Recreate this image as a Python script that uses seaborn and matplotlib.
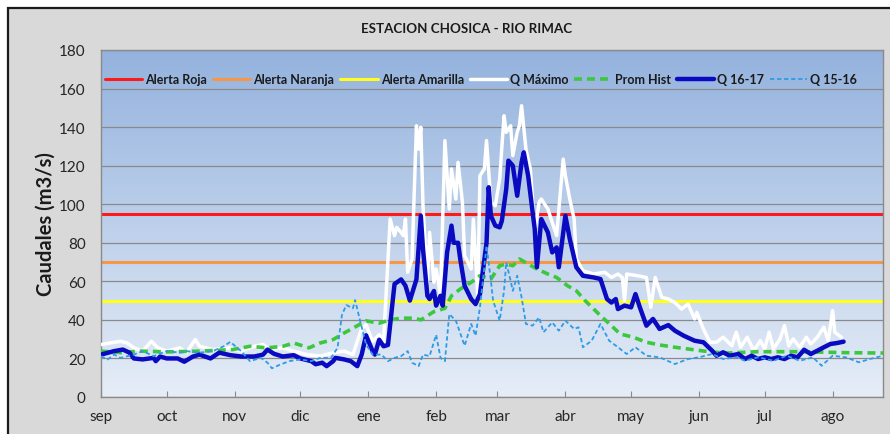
import numpy as np
import matplotlib.pyplot as plt
import matplotlib.patches as patches
import seaborn as sns

# meses (eje x en dias desde el 1 de setiembre)
meses = ["sep", "oct", "nov", "dic", "ene", "feb", "mar", "abr", "may", "jun", "jul", "ago"]
inicio_mes = [0, 30, 61, 91, 122, 153, 181, 212, 242, 273, 303, 334]

# umbrales de alerta (m3/s)
alerta_roja = 95
alerta_naranja = 70
alerta_amarilla = 50

# Q Maximo
dia_max = [0, 4, 9, 12, 15, 19, 23, 26, 30, 36, 39, 43, 45, 51, 59, 64, 70, 74, 77, 83, 88, 94, 100, 106,
           111, 115, 119, 121, 124, 127, 129, 132, 134, 135, 137, 138, 139, 140, 142, 144, 145, 146, 147,
           149, 150, 152, 153, 155, 157, 159, 160, 162, 163, 165, 166, 169, 170, 172, 173, 175, 176, 178,
           180, 182, 184, 185, 187, 188, 190, 191, 192, 194, 196, 198, 200, 201, 204, 206, 208, 211, 212,
           214, 216, 217, 220, 225, 230, 233, 236, 238, 239, 240, 245, 249, 251, 253, 256, 259, 262, 265,
           268, 271, 272, 275, 278, 281, 284, 288, 290, 292, 295, 298, 301, 303, 305, 307, 310, 312, 314,
           316, 319, 322, 324, 327, 330, 332, 334, 335, 338]
q_max = [27.2, 28, 28.9, 28, 25.5, 23.8, 28.9, 25.5, 23.8, 25.5, 23, 29.8, 26.3, 24.6, 25.5, 23.8, 26.3,
         27.2, 24.6, 25.5, 23.8, 22, 21.2, 23, 23.8, 22, 35.7, 37.4, 28.9, 32.3, 28.9, 92.3, 83.7, 88, 85.4,
         83.7, 92.3, 64.7, 71.6, 140.7, 128.6, 139.9, 99.2, 59.5, 85.4, 59.5, 66.4, 52.5, 133, 97.5, 118.3,
         102.7, 121.7, 101, 73.3, 66.4, 92.3, 52.5, 114.8, 118.3, 133, 101, 99.2, 113.1, 145.9, 137.3,
         140.7, 125.2, 137.3, 140.7, 151.1, 128.6, 118.3, 85.4, 101, 102.7, 97.5, 90.6, 83.7, 123.4, 114.8,
         102.7, 92.3, 71.6, 65.5, 63.8, 64.7, 62, 63.8, 62, 50, 63.8, 62.9, 62, 46.5, 62, 51.7, 50.8, 49,
         45.6, 48.2, 40.5, 43.9, 35.3, 28.4, 28.4, 31, 26.6, 33.6, 25.8, 31, 24, 29.2, 24.9, 33.6, 24.9,
         30.1, 37, 26.6, 30.1, 25.8, 31, 27.5, 31, 36.2, 29.2, 44.8, 33.6, 31]

# Promedio historico
dia_prom = [0, 9, 18, 30, 45, 60, 68, 76, 83, 88, 95, 100, 106, 111, 115, 121, 127, 132, 137, 143, 146,
            152, 157, 160, 164, 169, 173, 178, 182, 185, 188, 191, 195, 199, 204, 208, 213, 217, 221, 228,
            233, 237, 243, 249, 255, 262, 268, 274, 280, 286, 300, 320, 340, 357]
prom_hist = [23.8, 23, 23.8, 23.4, 23.8, 24.6, 26.3, 25.5, 26.3, 28, 25.5, 28, 29.8, 33.2, 35.7, 39.5,
             38.3, 40, 40.9, 40.9, 40, 44.3, 46, 52.5, 56, 59.5, 62.9, 61.2, 68.1, 69, 68.1, 71.6, 69, 66.4,
             63.8, 62, 57.7, 55.1, 50, 42.2, 37, 32.7, 31, 28.4, 27, 25.8, 24.9, 24, 23.2, 22.8, 23.5, 23.5,
             23, 22.8]

# Q 16-17
dia_1617 = [0, 6, 10, 13, 15, 19, 24, 25, 27, 30, 35, 38, 42, 45, 50, 54, 59, 64, 70, 74, 76, 79, 83, 88,
            91, 96, 98, 101, 103, 106, 107, 111, 114, 117, 119, 121, 124, 125, 127, 129, 131, 132, 134, 137,
            139, 141, 144, 146, 147, 149, 150, 152, 153, 155, 156, 158, 160, 161, 163, 164, 166, 169, 171,
            173, 176, 177, 178, 180, 182, 183, 185, 186, 188, 190, 192, 193, 195, 198, 199, 201, 204, 206,
            208, 209, 212, 214, 217, 220, 225, 228, 231, 233, 235, 236, 239, 242, 244, 246, 249, 252, 255,
            259, 262, 266, 271, 275, 279, 281, 284, 287, 291, 294, 297, 300, 303, 306, 309, 312, 315, 318,
            321, 324, 327, 330, 333, 336, 339]
q_1617 = [22, 23.8, 24.6, 23, 20, 19.5, 20.3, 18.6, 21, 20, 20, 18.3, 21, 22, 20, 23, 21.7, 21, 21, 22,
          24.6, 22.4, 21, 21.7, 20, 18.6, 17, 17.8, 16, 18.6, 20.3, 19.5, 18.6, 16, 22, 32, 23.8, 22, 29.7,
          26.3, 27, 37.4, 58.6, 61, 57.7, 50, 61, 94, 76.8, 52.5, 50.8, 55, 47.4, 52.5, 47.4, 75, 88.9, 80,
          80, 71.6, 57.7, 50.8, 48.2, 53.4, 80, 108.8, 94, 88.9, 88, 91.4, 107.9, 122.6, 120, 104.4, 121.7,
          126.9, 114.8, 87.1, 67.3, 92.3, 85.4, 75, 77.6, 67.3, 94, 82, 67.3, 62.9, 62, 61.2, 50.8, 49,
          50.8, 45.6, 47.4, 46.5, 53.4, 46.5, 37, 40.5, 35.3, 37.3, 34.4, 31.8, 29.2, 28.4, 24, 21.4, 23.2,
          21.4, 22.3, 19.7, 21.4, 19.7, 20.6, 19.7, 20.6, 19.7, 21.4, 20.6, 24.5, 22.3, 24, 25.8, 27.5, 28,
          28.7]

# Q 15-16
dia_1516 = [0, 3, 6, 9, 15, 19, 24, 30, 36, 39, 45, 51, 56, 59, 64, 68, 73, 76, 78, 82, 86, 91, 96, 100,
            105, 108, 110, 112, 115, 116, 118, 121, 124, 128, 131, 134, 137, 140, 142, 145, 147, 150, 153,
            155, 157, 159, 162, 166, 169, 171, 173, 175, 176, 178, 179, 182, 184, 185, 187, 188, 190, 192,
            194, 197, 200, 202, 206, 209, 212, 216, 218, 220, 224, 228, 232, 236, 240, 244, 249, 255, 262,
            268, 273, 279, 284, 290, 294, 300, 307, 313, 319, 325, 329, 334, 340, 346, 351, 357]
q_1516 = [21.2, 19.5, 22, 20.3, 22, 23.8, 21.2, 23.8, 23, 23.8, 23, 23.8, 26.3, 28.6, 23.8, 18.6, 20.3,
          17.8, 14.9, 16.9, 18.6, 19.5, 18.6, 20.3, 20.3, 25.5, 42.6, 47.7, 46, 50.3, 40.9, 27.2, 22, 22,
          18.6, 20.3, 21.2, 23.8, 17.8, 16, 22, 21.2, 32.3, 20.3, 18.6, 43, 39.6, 26.6, 37.9, 31.8, 46.5,
          67.3, 78.5, 60.3, 50, 39.6, 55.1, 69.9, 60.3, 55.1, 62.9, 51.7, 37.9, 37, 41.3, 33.6, 38.7, 34.4,
          39.6, 35.3, 36.2, 25.8, 29.2, 37.9, 29.2, 25.8, 22.3, 25.8, 21.4, 20.6, 17.1, 19.7, 20.6, 22.3,
          19.7, 20.6, 18.8, 20.6, 18.8, 21.4, 18.8, 20.6, 16.2, 21.4, 20.6, 18, 19.7, 21.4]

sns.set_style("white")
plt.rcParams["font.family"] = ["Lato", "DejaVu Sans"]

fig = plt.figure(figsize=(8.9, 4.35), dpi=100, facecolor="white")

# marco gris del grafico
marco = patches.Rectangle((8 / 890, -0.05), 1.2, (435 - 9) / 435 + 0.05, transform=fig.transFigure,
                          facecolor="#d9d9d9", edgecolor="#1a1a1a", linewidth=1.6, zorder=-5)
fig.add_artist(marco)

ax = fig.add_axes([101 / 890, 37 / 435, 782 / 890, 347 / 435])

# fondo degradado
grad = np.linspace(0, 1, 256).reshape(-1, 1)
top = np.array([0.58, 0.70, 0.87])
bot = np.array([0.90, 0.93, 0.97])
img = top + (bot - top) * grad
ax.imshow(img[:, None, :].repeat(2, axis=1), extent=[0, 1, 0, 1], transform=ax.transAxes,
          aspect="auto", zorder=0, interpolation="bilinear")

ax.axhline(alerta_roja, color="#ff1a1a", lw=2.2, label="Alerta Roja", zorder=2)
ax.axhline(alerta_naranja, color="#f79646", lw=2.2, label="Alerta Naranja", zorder=2)
ax.axhline(alerta_amarilla, color="#ffff1a", lw=2.2, label="Alerta Amarilla", zorder=2)

sns.lineplot(x=dia_max, y=q_max, color="white", lw=2.5, label="Q Máximo", ax=ax, zorder=3)
sns.lineplot(x=dia_prom, y=prom_hist, color="#3cc83c", lw=2.6, linestyle=(0, (2.2, 1.4)),
             label="Prom Hist", ax=ax, zorder=4)
sns.lineplot(x=dia_1617, y=q_1617, color="#0a0ac0", lw=3.2, label="Q 16-17", ax=ax, zorder=5)
sns.lineplot(x=dia_1516, y=q_1516, color="#2e9be6", lw=1.3, linestyle=(0, (2.4, 1.5)),
             label="Q 15-16", ax=ax, zorder=6)

ax.set_xlim(0, 357)
ax.set_ylim(0, 180)
ax.set_yticks(range(0, 181, 20))
ax.set_xticks(inicio_mes)
ax.set_xticklabels(meses)
ax.set_axisbelow(True)
ax.yaxis.grid(True, color="#8a8a8a", lw=0.9)
ax.xaxis.grid(False)
for s in ax.spines.values():
    s.set_color("#8a8a8a")
    s.set_linewidth(1)
ax.tick_params(axis="x", direction="in", length=4, color="#8a8a8a", pad=9, labelsize=11,
               labelcolor="#262626", bottom=True)
ax.tick_params(axis="y", length=0, pad=11, labelsize=11, labelcolor="#262626")
ax.set_xlabel("")
ax.set_ylabel("Caudales (m3/s)", fontsize=14.5, fontweight="bold", color="#1a1a1a")
ax.yaxis.set_label_coords(-0.058, 0.5)

fig.text(467 / 890, 1 - 29 / 435, "ESTACION CHOSICA - RIO RIMAC", ha="center", va="center",
         fontsize=9.6, fontweight="bold", color="#1a1a1a")

ax.legend(ncol=7, loc="center", bbox_to_anchor=(0.486, 0.916), frameon=False,
          prop={"weight": "bold", "size": 9}, handlelength=3.0, handletextpad=0.25,
          columnspacing=0.45, labelcolor="#1a1a1a")

fig.savefig("out.png", dpi=100)
